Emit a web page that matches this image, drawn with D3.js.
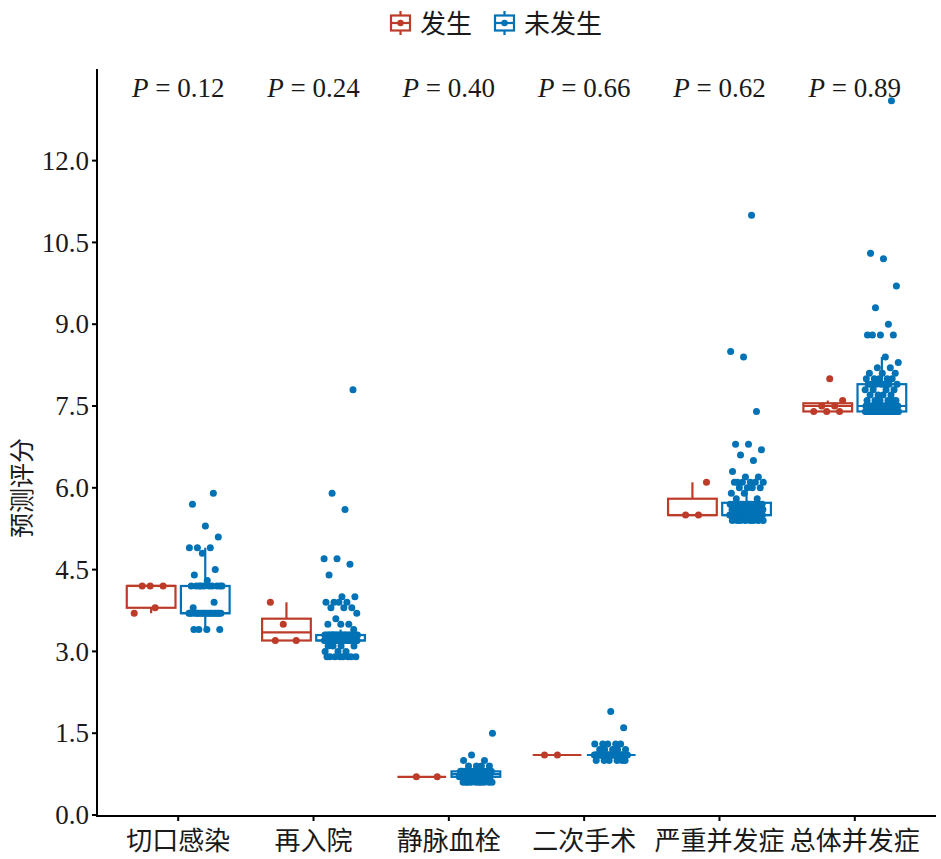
<!DOCTYPE html>
<html>
<head>
<meta charset="utf-8">
<script src="https://cdn.jsdelivr.net/npm/d3@7"></script>
<style>
  html, body { margin: 0; padding: 0; background: #fff; }
  svg { display: block; }
</style>
</head>
<body>
<svg id="chart" width="941" height="859"></svg>
<script>
// ---------------- data ----------------
const categories = ["切口感染", "再入院", "静脉血栓", "二次手术", "严重并发症", "总体并发症"];
const groups = ["发生", "未发生"];
const groupColors = ["#BC3C29", "#0072B5"];
const pLabels = ["0.12", "0.24", "0.40", "0.66", "0.62", "0.89"];
const yTicks = [0, 1.5, 3, 4.5, 6, 7.5, 9, 10.5, 12];

// 发生 (occurred)
const occIncision = [4.2, 4.2, 4.2, 3.8, 3.7];
const occReadmit = [3.9, 3.5, 3.2, 3.2];
const occVTE = [0.7, 0.7];
const occReop = [1.1, 1.1];
const occSevere = [6.1, 5.5, 5.5];
const occOverall = [8.0, 7.6, 7.5, 7.5, 7.4, 7.4, 7.4];

// 未发生 (not occurred)
const nonIncision = [3.4, 3.4, 3.4, 3.4,
  3.7, 3.7, 3.7, 3.7, 3.7, 3.7, 3.7, 3.7, 3.7, 3.7, 3.7, 3.7, 3.7, 3.7, 3.7, 3.7, 3.7, 3.7, 3.7, 3.7,
  3.8, 3.9,
  4.2, 4.2, 4.2, 4.2, 4.2, 4.2, 4.2, 4.2, 4.2, 4.2,
  4.3, 4.4, 4.5, 4.8, 4.9, 4.9, 4.9, 5.1, 5.3, 5.7, 5.9];
const nonReadmit = [2.9, 2.9, 2.9, 2.9, 2.9, 2.9, 2.9, 2.9,
  3.0, 3.0, 3.0, 3.1, 3.1, 3.1, 3.1,
  3.2, 3.2, 3.2, 3.2, 3.2, 3.2, 3.2, 3.2, 3.2, 3.2, 3.2, 3.2, 3.2, 3.2, 3.2,
  3.2, 3.2, 3.2, 3.2, 3.2, 3.2, 3.2, 3.2, 3.2, 3.2, 3.2, 3.2, 3.2, 3.2, 3.2,
  3.3, 3.3, 3.3, 3.3, 3.3, 3.3, 3.3, 3.3, 3.3, 3.3, 3.3,
  3.3, 3.3, 3.3, 3.3, 3.3, 3.3, 3.3, 3.3, 3.3, 3.3, 3.3,
  3.4, 3.5, 3.5, 3.5, 3.6, 3.7, 3.8, 3.8, 3.8, 3.9, 3.9, 3.9, 3.9, 4.0, 4.0,
  4.4, 4.6, 4.7, 4.7, 5.6, 5.9, 7.8];
const nonVTE = [0.6, 0.6, 0.6, 0.6, 0.6, 0.6, 0.6, 0.6, 0.6, 0.6,
  0.7, 0.7, 0.7, 0.7, 0.7, 0.7, 0.7, 0.7, 0.7, 0.7, 0.7,
  0.8, 0.8, 0.8, 0.8, 0.8, 0.8, 0.8, 0.8, 0.8, 0.8, 0.8, 0.8, 0.8,
  0.9, 0.9, 0.9, 0.9, 1.0, 1.0, 1.1, 1.5];
const nonReop = [1.0, 1.0, 1.0, 1.0, 1.0, 1.0,
  1.1, 1.1, 1.1, 1.1, 1.1, 1.1, 1.1, 1.1, 1.1, 1.1, 1.1, 1.1, 1.1, 1.1, 1.1, 1.1,
  1.1, 1.1, 1.1, 1.1, 1.1, 1.1, 1.1, 1.1, 1.1, 1.1, 1.1, 1.1, 1.1, 1.1, 1.1,
  1.2, 1.2, 1.2, 1.2, 1.2, 1.3, 1.3, 1.3, 1.3, 1.3, 1.6, 1.9];
const nonSevere = [5.4, 5.4, 5.4, 5.4, 5.4, 5.4, 5.4, 5.4,
  5.5, 5.5, 5.5, 5.5, 5.5, 5.5, 5.5, 5.5, 5.5, 5.5, 5.5, 5.5, 5.5, 5.5, 5.5, 5.5,
  5.5, 5.5, 5.5, 5.5, 5.5, 5.5, 5.5, 5.5, 5.5, 5.5, 5.5, 5.5, 5.5, 5.5, 5.5, 5.5,
  5.5, 5.5, 5.5, 5.5, 5.5, 5.5, 5.5, 5.5, 5.5, 5.5, 5.5, 5.5, 5.5, 5.5,
  5.6, 5.6, 5.6, 5.6, 5.6, 5.6, 5.6, 5.6, 5.6, 5.6,
  5.7, 5.7, 5.7, 5.7, 5.7, 5.7, 5.7, 5.7, 5.7, 5.7, 5.7, 5.7, 5.7, 5.7,
  5.8, 5.8, 5.9, 5.9, 6.0, 6.0, 6.0, 6.0, 6.1, 6.1, 6.1, 6.1, 6.1, 6.1,
  6.2, 6.2, 6.3, 6.5, 6.6, 6.7, 6.8, 6.8, 7.4, 8.4, 8.5, 11.0];
const nonOverall = [7.4, 7.4, 7.4, 7.4, 7.4, 7.4, 7.4, 7.4, 7.4, 7.4, 7.4, 7.4, 7.4, 7.4, 7.4,
  7.4, 7.4, 7.4, 7.4, 7.4, 7.4, 7.4, 7.4, 7.4, 7.4, 7.4, 7.4, 7.4, 7.4, 7.4,
  7.5, 7.5, 7.5, 7.5, 7.5, 7.5, 7.5, 7.5, 7.5, 7.5, 7.5, 7.5, 7.5, 7.5, 7.5, 7.5, 7.5, 7.5,
  7.6, 7.6, 7.6, 7.6, 7.6, 7.6, 7.7, 7.7, 7.7, 7.7, 7.8, 7.8, 7.8, 7.8,
  7.9, 7.9, 7.9, 7.9, 7.9, 7.9, 7.9,
  8.0, 8.0, 8.0, 8.0, 8.0, 8.1, 8.1, 8.1, 8.2, 8.2, 8.3, 8.4,
  8.8, 8.8, 8.8, 8.8, 9.0, 9.3, 9.7, 10.2, 10.3, 13.1];

const occurred = [occIncision, occReadmit, occVTE, occReop, occSevere, occOverall];
const notOccurred = [nonIncision, nonReadmit, nonVTE, nonReop, nonSevere, nonOverall];

// ---------------- layout ----------------
const svg = d3.select("#chart");
const plot = { left: 97, right: 936, top: 69, bottom: 815 };
const latin = "'Liberation Serif', 'Times New Roman', serif";
const cjk = "'Noto Sans CJK SC', 'Noto Sans CJK JP', sans-serif";
const fs = 27;
const fsCjk = 26;

const x = d3.scalePoint().domain(categories).range([plot.left, plot.right]).padding(0.6);
const step = x.step();
const dodge = d3.scalePoint().domain(groups).range([-0.2 * step, 0.2 * step]);
const boxW = 0.36 * step;
const jitterW = 0.125 * step;

const y = d3.scaleLinear().domain([0, 13.68]).range([plot.bottom, plot.top]);

function stats(arr) {
  const s = arr.slice().sort(d3.ascending);
  const q1 = d3.quantile(s, 0.25), med = d3.quantile(s, 0.5), q3 = d3.quantile(s, 0.75);
  const iqr = q3 - q1;
  const lo = d3.min(s.filter(v => v >= q1 - 1.5 * iqr));
  const hi = d3.max(s.filter(v => v <= q3 + 1.5 * iqr));
  return { s, q1, med, q3, lo, hi };
}

const gMarks = svg.append("g");
categories.forEach((cat, ci) => {
  [occurred[ci], notOccurred[ci]].forEach((arr, gi) => {
    const col = groupColors[gi];
    const cx = x(cat) + dodge(groups[gi]);
    const st = stats(arr);
    const g = gMarks.append("g").attr("stroke", col).attr("stroke-width", 2.2).attr("fill", "none");
    g.append("line").attr("x1", cx).attr("x2", cx).attr("y1", y(st.q3)).attr("y2", y(st.hi));
    g.append("line").attr("x1", cx).attr("x2", cx).attr("y1", y(st.q1)).attr("y2", y(st.lo));
    g.append("rect")
      .attr("x", cx - boxW / 2).attr("width", boxW)
      .attr("y", y(st.q3)).attr("height", Math.max(0, y(st.q1) - y(st.q3)))
      .attr("fill", "#fff");
    g.append("line").attr("x1", cx - boxW / 2).attr("x2", cx + boxW / 2)
      .attr("y1", y(st.med)).attr("y2", y(st.med));
  });
});

// jittered points on top
categories.forEach((cat, ci) => {
  [occurred[ci], notOccurred[ci]].forEach((arr, gi) => {
    const col = groupColors[gi];
    const cx = x(cat) + dodge(groups[gi]);
    const pts = arr.slice().sort(d3.ascending);
    gMarks.append("g").selectAll("circle").data(pts).join("circle")
      .attr("cx", (d, i) => cx + (((i * 0.6180339887 + gi * 0.31 + ci * 0.17) % 1) - 0.5) * 2 * jitterW)
      .attr("cy", d => y(d))
      .attr("r", 3.5)
      .attr("fill", col);
  });
});

// ---------------- axes ----------------
const axisG = svg.append("g").attr("stroke", "#000").attr("stroke-width", 2);
axisG.append("line").attr("x1", plot.left).attr("x2", plot.left).attr("y1", plot.top).attr("y2", plot.bottom + 1);
axisG.append("line").attr("x1", plot.left - 1).attr("x2", plot.right).attr("y1", plot.bottom + 1).attr("y2", plot.bottom + 1);

yTicks.forEach(t => {
  axisG.append("line").attr("x1", plot.left - 5).attr("x2", plot.left).attr("y1", y(t)).attr("y2", y(t));
  svg.append("text").attr("x", plot.left - 8).attr("y", y(t)).attr("dy", "0.34em")
    .attr("text-anchor", "end").attr("font-family", latin).attr("font-size", fs).attr("fill", "#1a1a1a")
    .text(d3.format(".1f")(t));
});

categories.forEach(cat => {
  axisG.append("line").attr("x1", x(cat)).attr("x2", x(cat)).attr("y1", plot.bottom + 1).attr("y2", plot.bottom + 6);
  svg.append("text").attr("x", x(cat)).attr("y", 850)
    .attr("text-anchor", "middle").attr("font-family", cjk).attr("font-size", fsCjk).attr("fill", "#1a1a1a")
    .text(cat);
});

// y title
svg.append("text")
  .attr("transform", "translate(31,488) rotate(-90)")
  .attr("text-anchor", "middle").attr("font-family", cjk).attr("font-size", 25).attr("fill", "#1a1a1a")
  .text("预测评分");

// P labels
categories.forEach((cat, ci) => {
  const t = svg.append("text").attr("x", x(cat)).attr("y", 97)
    .attr("text-anchor", "middle").attr("font-family", latin).attr("font-size", fs).attr("fill", "#1a1a1a");
  t.append("tspan").attr("font-style", "italic").text("P");
  t.append("tspan").text(" = " + pLabels[ci]);
});

// ---------------- legend ----------------
const legendKeys = [{ x: 391, tx: 420 }, { x: 495, tx: 524 }];
groups.forEach((gname, gi) => {
  const col = groupColors[gi];
  const k = legendKeys[gi];
  const kx = k.x, kw = 19, cy = 23;
  const lg = svg.append("g").attr("stroke", col).attr("stroke-width", 2.2).attr("fill", "none");
  lg.append("line").attr("x1", kx + kw / 2).attr("x2", kx + kw / 2).attr("y1", 11).attr("y2", 35);
  lg.append("rect").attr("x", kx).attr("y", 15.5).attr("width", kw).attr("height", 15).attr("fill", "#fff");
  lg.append("line").attr("x1", kx).attr("x2", kx + kw).attr("y1", cy).attr("y2", cy);
  svg.append("circle").attr("cx", kx + kw / 2).attr("cy", cy).attr("r", 3.2).attr("fill", col);
  svg.append("text").attr("x", k.tx).attr("y", cy + 10)
    .attr("font-family", cjk).attr("font-size", fsCjk).attr("fill", "#1a1a1a").text(gname);
});
</script>
</body>
</html>
